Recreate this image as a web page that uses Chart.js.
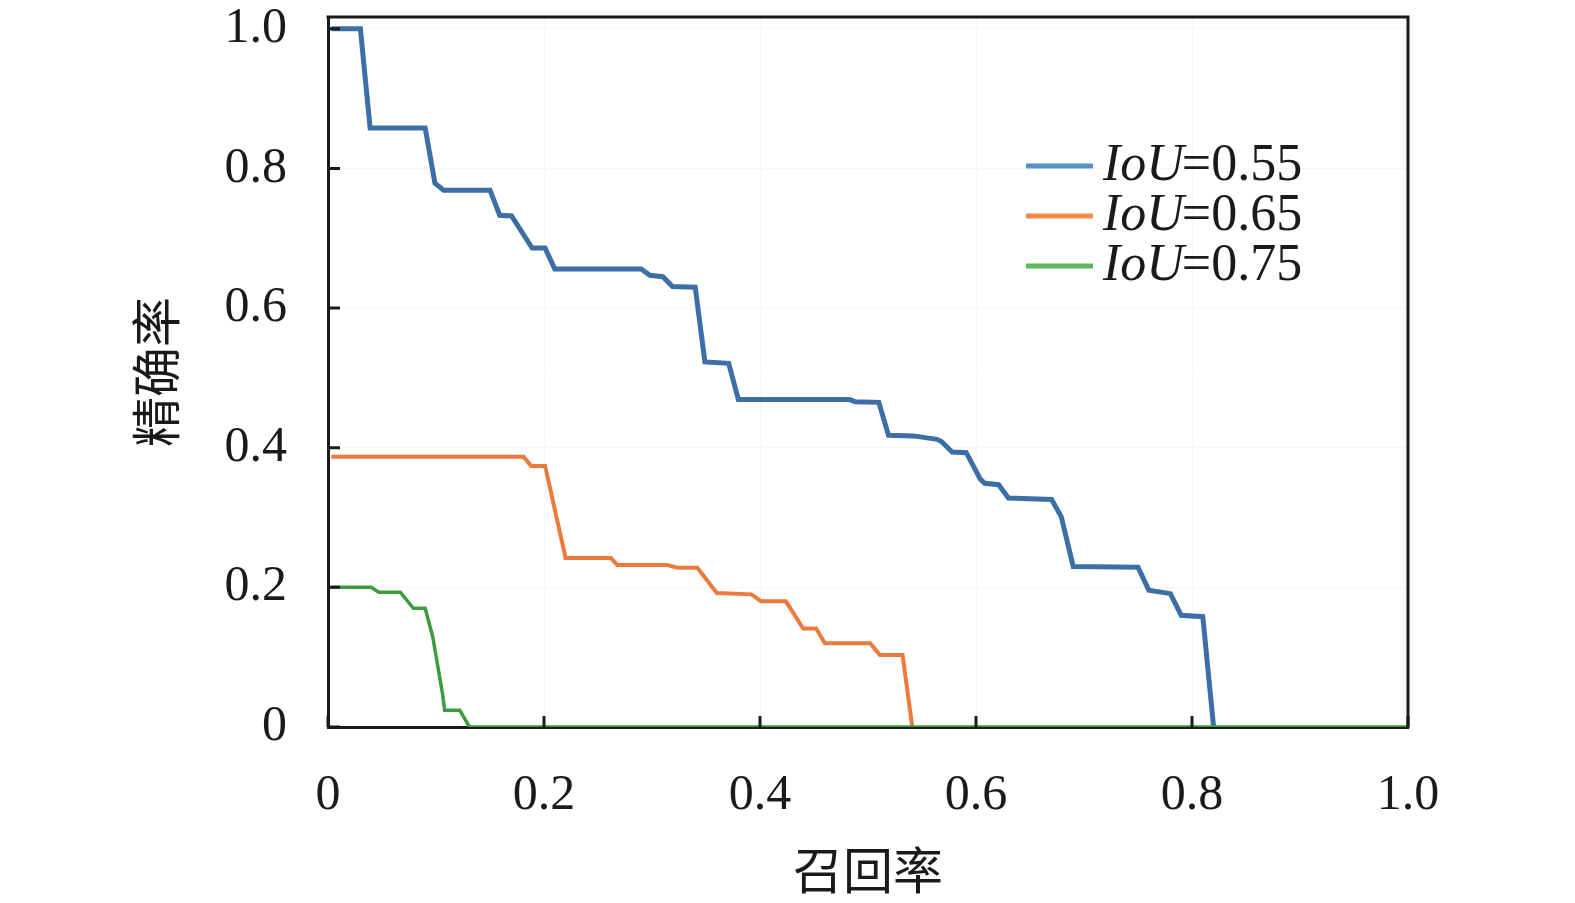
<!DOCTYPE html>
<html>
<head>
<meta charset="utf-8">
<script src="https://cdn.jsdelivr.net/npm/chart.js@4.4.0/dist/chart.umd.min.js"></script>
<style>
  html, body { margin: 0; padding: 0; background: #fff; }
  #wrap { width: 1575px; height: 903px; }
</style>
</head>
<body>
<div id="wrap"><canvas id="prChart"></canvas></div>
<script>
// IoU thresholds (legend)
const iouLabels = ["0.55", "0.65", "0.75"];

// IoU = 0.55
const recall055 = [0.003, 0.030, 0.039, 0.090, 0.099, 0.107, 0.150, 0.159, 0.170, 0.189, 0.201, 0.210, 0.290, 0.298, 0.310,
    0.319, 0.340, 0.349, 0.371, 0.380, 0.483, 0.488, 0.510, 0.519, 0.542, 0.564, 0.568, 0.578, 0.591, 0.604, 0.608, 0.621,
    0.630, 0.670, 0.679, 0.690, 0.750, 0.760, 0.780, 0.790, 0.810, 0.820];
const precision055 = [1.0, 1.0, 0.858, 0.858, 0.779, 0.769, 0.769, 0.733, 0.732, 0.686, 0.686, 0.656, 0.656, 0.647, 0.645,
    0.631, 0.630, 0.523, 0.521, 0.469, 0.469, 0.466, 0.465, 0.418, 0.417, 0.412, 0.409, 0.394, 0.393, 0.355, 0.349, 0.347,
    0.328, 0.326, 0.301, 0.230, 0.229, 0.196, 0.191, 0.160, 0.158, 0.0];

// IoU = 0.65
const recall065 = [0.003, 0.181, 0.188, 0.201, 0.220, 0.262, 0.268, 0.314, 0.324, 0.342, 0.360, 0.392, 0.401, 0.424,
    0.440, 0.452, 0.460, 0.502, 0.511, 0.532, 0.541];
const precision065 = [0.387, 0.387, 0.374, 0.374, 0.242, 0.242, 0.232, 0.232, 0.228, 0.228, 0.192, 0.190, 0.180, 0.180,
    0.141, 0.141, 0.120, 0.120, 0.103, 0.103, 0.0];

// IoU = 0.75
const recall075 = [0.003, 0.040, 0.047, 0.067, 0.079, 0.090, 0.097, 0.106, 0.108, 0.122, 0.131, 1.0];
const precision075 = [0.200, 0.200, 0.193, 0.193, 0.170, 0.170, 0.129, 0.048, 0.024, 0.024, 0.0, 0.0];

const xTicks = [0, 0.2, 0.4, 0.6, 0.8, 1.0];
const xTickLabels = ["0", "0.2", "0.4", "0.6", "0.8", "1.0"];
const yTicks = [0, 0.2, 0.4, 0.6, 0.8, 1.0];
const yTickLabels = ["0", "0.2", "0.4", "0.6", "0.8", "1.0"];

const lineColors = ["#3d6fa7", "#ec7a3c", "#3e9a3e"];
const legendColors = ["#5a8fc4", "#f58a4c", "#5cb85c"];
const serif = '"Liberation Serif", "Times New Roman", serif';
const cjk = '"Noto Sans CJK SC", sans-serif';

function toPoints(xs, ys) {
    return xs.map((x, i) => ({ x: x, y: ys[i] }));
}

// frame on top/right + inward tick marks
const framePlugin = {
    id: "frame",
    afterDatasetsDraw(chart) {
        const { ctx, chartArea: a, scales: { x, y } } = chart;
        ctx.save();
        ctx.strokeStyle = "#1a1a1a";
        ctx.lineWidth = 3;
        ctx.beginPath();
        ctx.moveTo(a.left - 1.5, a.top);
        ctx.lineTo(a.right, a.top);
        ctx.lineTo(a.right, a.bottom + 1.5);
        ctx.stroke();

        ctx.beginPath();
        xTicks.forEach(v => {
            const px = x.getPixelForValue(v);
            ctx.moveTo(px, a.bottom);
            ctx.lineTo(px, a.bottom - 11);
        });
        yTicks.forEach(v => {
            const py = y.getPixelForValue(v);
            ctx.moveTo(a.left, py);
            ctx.lineTo(a.left + 12, py);
        });
        ctx.stroke();
        ctx.restore();
    }
};

// legend with italic "IoU"
const legendPlugin = {
    id: "iouLegend",
    afterDraw(chart) {
        const ctx = chart.ctx;
        const rows = [166, 216, 266];
        ctx.save();
        ctx.textBaseline = "middle";
        ctx.fillStyle = "#1a1a1a";
        iouLabels.forEach((lab, i) => {
            const yy = rows[i];
            ctx.strokeStyle = legendColors[i];
            ctx.lineWidth = 5;
            ctx.beginPath();
            ctx.moveTo(1026, yy);
            ctx.lineTo(1093, yy);
            ctx.stroke();

            ctx.font = "italic 52px " + serif;
            ctx.fillText("IoU", 1103, yy);
            const w = ctx.measureText("IoU").width;
            ctx.font = "52px " + serif;
            ctx.fillText("=" + lab, 1103 + w - 2, yy);
        });
        ctx.restore();
    }
};

window.addEventListener("DOMContentLoaded", () => {
    const ctx = document.getElementById("prChart").getContext("2d");
    const lineClip = { left: 3, top: 3, right: 0, bottom: 0 };

    new Chart(ctx, {
        type: "scatter",
        data: {
            datasets: [
                {
                    label: "IoU=" + iouLabels[0],
                    data: toPoints(recall055, precision055),
                    showLine: true, borderColor: lineColors[0], borderWidth: 5,
                    pointRadius: 0, tension: 0, clip: lineClip, order: 3
                },
                {
                    label: "IoU=" + iouLabels[1],
                    data: toPoints(recall065, precision065),
                    showLine: true, borderColor: lineColors[1], borderWidth: 4,
                    pointRadius: 0, tension: 0, clip: lineClip, order: 2
                },
                {
                    label: "IoU=" + iouLabels[2],
                    data: toPoints(recall075, precision075),
                    showLine: true, borderColor: lineColors[2], borderWidth: 3.5,
                    pointRadius: 0, tension: 0, clip: lineClip, order: 1
                }
            ]
        },
        options: {
            responsive: true,
            maintainAspectRatio: false,
            animation: false,
            devicePixelRatio: 1,
            layout: { padding: { top: 17, right: 167, left: 0, bottom: 0 } },
            plugins: {
                legend: { display: false },
                tooltip: { enabled: false }
            },
            scales: {
                x: {
                    type: "linear",
                    min: 0,
                    max: 1,
                    afterBuildTicks: s => { s.ticks = xTicks.map(v => ({ value: v })); },
                    afterFit: s => { s.height = 176; s.paddingLeft = 0; s.paddingRight = 0; },
                    grid: { color: "#f7f7f7", lineWidth: 1, drawTicks: false },
                    border: { color: "#1a1a1a", width: 3 },
                    ticks: {
                        padding: 39,
                        color: "#1a1a1a",
                        font: { family: serif, size: 50 },
                        callback: (v, i) => xTickLabels[i]
                    },
                    title: {
                        display: true,
                        text: "召回率",
                        color: "#1a1a1a",
                        font: { family: cjk, size: 50 },
                        padding: { top: 0, bottom: 3 }
                    }
                },
                y: {
                    type: "linear",
                    min: 0,
                    max: 1.017,
                    afterBuildTicks: s => { s.ticks = yTicks.map(v => ({ value: v })); },
                    afterFit: s => { s.width = 328; s.paddingTop = 0; s.paddingBottom = 0; },
                    grid: { color: "#f7f7f7", lineWidth: 1, drawTicks: false },
                    border: { color: "#1a1a1a", width: 3 },
                    ticks: {
                        padding: 41,
                        color: "#1a1a1a",
                        font: { family: serif, size: 50 },
                        callback: (v, i) => yTickLabels[i]
                    },
                    title: {
                        display: true,
                        text: "精确率",
                        color: "#1a1a1a",
                        font: { family: cjk, size: 50 },
                        padding: { top: 126, bottom: 0 }
                    }
                }
            }
        },
        plugins: [framePlugin, legendPlugin]
    });
});
</script>
</body>
</html>
